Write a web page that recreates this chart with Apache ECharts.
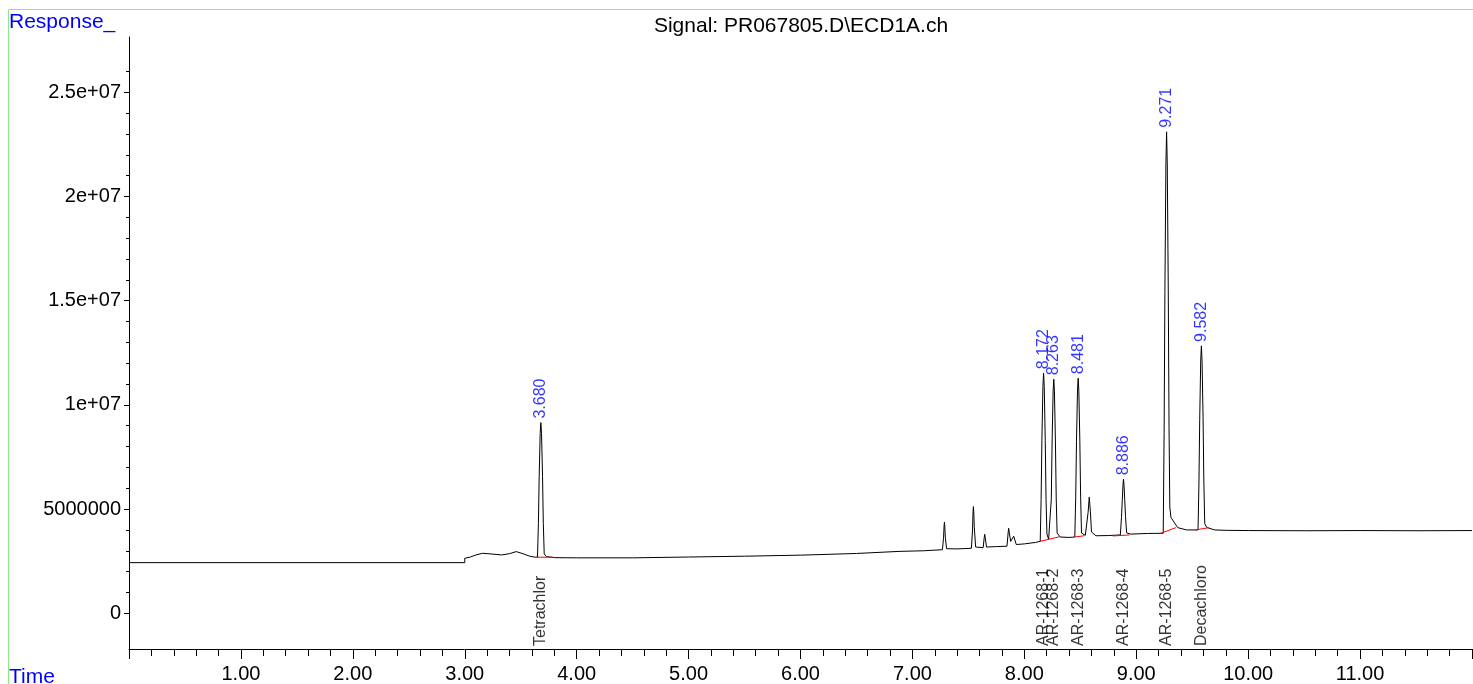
<!DOCTYPE html>
<html>
<head>
<meta charset="utf-8">
<title>Signal: PR067805.D\ECD1A.ch</title>
<script src="https://cdn.jsdelivr.net/npm/echarts@6/dist/echarts.min.js"></script>
<style>
    html, body { margin: 0; padding: 0; background: #fff; }
    #chart { width: 1473px; height: 684px; }
</style>
</head>
<body>
<div id="chart"></div>
<script>
// chromatogram trace (time in min, response in 1e6)
var traceTime = [
    0, 3.0, 3.0, 3.05, 3.10, 3.16, 3.25, 3.33, 3.40, 3.46, 3.52, 3.58, 3.63,
    3.650, 3.658, 3.665, 3.674, 3.680, 3.686, 3.695, 3.702, 3.71, 3.73,
    3.80, 4.00, 4.50, 5.00, 5.50, 6.00, 6.50, 6.88, 7.10,
    7.268, 7.278, 7.283, 7.286, 7.289, 7.294, 7.305, 7.40,
    7.527, 7.537, 7.542, 7.545, 7.548, 7.553, 7.565,
    7.632, 7.641, 7.646, 7.651, 7.662, 7.75,
    7.845, 7.855, 7.860, 7.866, 7.878, 7.890, 7.905, 7.910, 7.916, 7.928,
    8.00, 8.10,
    8.142, 8.150, 8.157, 8.166, 8.172, 8.178, 8.187, 8.194, 8.202, 8.217,
    8.233, 8.241, 8.248, 8.257, 8.263, 8.269, 8.278, 8.285, 8.293, 8.32, 8.40,
    8.451, 8.459, 8.466, 8.475, 8.481, 8.487, 8.496, 8.503, 8.511, 8.545,
    8.560, 8.570, 8.580, 8.590, 8.600, 8.64, 8.75,
    8.858, 8.868, 8.875, 8.882, 8.886, 8.890, 8.897, 8.904, 8.914, 8.95, 9.10,
    9.241, 9.249, 9.256, 9.265, 9.271, 9.277, 9.286, 9.293, 9.300, 9.31, 9.37, 9.45,
    9.552, 9.560, 9.567, 9.576, 9.582, 9.588, 9.597, 9.604, 9.612, 9.63,
    9.70, 9.80, 10.0, 10.5, 11.0, 11.5, 12.0
];
var traceResp = [
    2.43, 2.43, 2.64, 2.70, 2.80, 2.88, 2.84, 2.80, 2.86, 2.96, 2.86, 2.74, 2.69,
    2.70, 4.31, 6.57, 8.63, 9.15, 8.63, 6.57, 4.31, 2.85, 2.72,
    2.67, 2.66, 2.66, 2.70, 2.74, 2.79, 2.87, 2.97, 3.00,
    3.05, 3.60, 4.20, 4.37, 4.20, 3.65, 3.10, 3.09,
    3.12, 4.00, 4.90, 5.12, 4.90, 4.10, 3.18,
    3.15, 3.60, 3.79, 3.62, 3.18, 3.20,
    3.22, 3.85, 4.08, 3.85, 3.45, 3.44, 3.70, 3.79, 3.65, 3.30,
    3.33, 3.40,
    3.45, 5.47, 8.29, 10.87, 11.52, 10.87, 8.29, 5.47, 3.80, 3.55,
    3.58, 5.49, 8.17, 10.62, 11.23, 10.62, 8.17, 5.49, 3.85, 3.66, 3.64,
    3.66, 5.57, 8.23, 10.67, 11.28, 10.67, 8.23, 5.57, 3.85, 3.74,
    3.78, 4.85, 5.57, 4.90, 3.90, 3.72, 3.73,
    3.76, 4.60, 5.40, 6.20, 6.43, 6.20, 5.45, 4.65, 3.86, 3.80, 3.83,
    3.84, 8.66, 15.4, 21.6, 23.1, 21.6, 15.6, 8.90, 5.10, 4.60, 4.11, 4.00,
    4.00, 6.20, 9.30, 12.1, 12.83, 12.1, 9.40, 6.30, 4.30, 4.12,
    4.00, 3.98, 3.97, 3.96, 3.97, 3.96, 3.97
];

// integrated peaks
var peakTimes = [3.680, 8.172, 8.263, 8.481, 8.886, 9.271, 9.582];
var peakHeights = [9.15, 11.52, 11.23, 11.28, 6.43, 23.1, 12.83];
var compoundNames = ['Tetrachlor', 'AR-1268-1', 'AR-1268-2', 'AR-1268-3', 'AR-1268-4', 'AR-1268-5', 'Decachloro'];

// red integration baselines: [t1, v1, t2, v2]
var baseSegments = [
    [3.64, 2.69, 3.79, 2.69],
    [8.14, 3.45, 8.32, 3.68],
    [8.45, 3.66, 8.535, 3.72],
    [8.79, 3.71, 8.94, 3.76],
    [9.22, 3.84, 9.355, 4.11],
    [9.53, 4.00, 9.65, 4.11]
];

// y axis ticks
var yTicks = [0, 5000000, 10000000, 15000000, 20000000, 25000000];
var yTickLabels = ['0', '5000000', '1e+07', '1.5e+07', '2e+07', '2.5e+07'];
var yMinorTicks = [1000000, 2000000, 3000000, 4000000, 6000000, 7000000, 8000000, 9000000,
    11000000, 12000000, 13000000, 14000000, 16000000, 17000000, 18000000, 19000000,
    21000000, 22000000, 23000000, 24000000, 26000000];

var SCALE = 1000000;
var Y_MIN = -1713000;
var Y_MAX = 27650000;
var BLUE = '#0000ff';
var FONT = 'Liberation Sans, Arial, sans-serif';

var chart = echarts.init(document.getElementById('chart'), null, {renderer: 'canvas'});

var traceData = [];
for (var i = 0; i < traceTime.length; i++) {
    traceData.push([traceTime[i], traceResp[i] * SCALE]);
}

var series = [{
    type: 'line',
    data: traceData,
    showSymbol: false,
    symbol: 'none',
    lineStyle: {color: '#000', width: 1},
    silent: true,
    z: 2
}];

// red baselines
baseSegments.forEach(function (s) {
    series.push({
        type: 'line',
        data: [[s[0], s[1] * SCALE], [s[2], s[3] * SCALE]],
        symbol: 'none',
        lineStyle: {color: '#ff0000', width: 1},
        silent: true,
        z: 3
    });
});

// retention time labels above peaks
series.push({
    type: 'scatter',
    symbolSize: 0,
    data: peakTimes.map(function (t, k) { return [t, peakHeights[k] * SCALE]; }),
    itemStyle: {color: 'transparent'},
    silent: true,
    label: {
        show: true,
        position: [0, -4],
        rotate: 90,
        align: 'left',
        verticalAlign: 'middle',
        fontFamily: FONT,
        fontSize: 16,
        color: BLUE,
        formatter: function (p) { return p.value[0].toFixed(3); }
    },
    z: 4
});

// compound names along the bottom
series.push({
    type: 'scatter',
    symbolSize: 0,
    data: peakTimes.map(function (t) { return [t, Y_MIN]; }),
    itemStyle: {color: 'transparent'},
    silent: true,
    clip: false,
    label: {
        show: true,
        position: [0, -3],
        rotate: 90,
        align: 'left',
        verticalAlign: 'middle',
        fontFamily: FONT,
        fontSize: 16,
        color: '#000',
        formatter: function (p) { return compoundNames[p.dataIndex]; }
    },
    z: 4
});

var option = {
    animation: false,
    backgroundColor: '#fff',
    grid: {left: 129, right: 1, top: 37, bottom: 35, containLabel: false, outerBoundsMode: 'none'},
    xAxis: {
        type: 'value',
        min: 0,
        max: 12,
        interval: 1,
        axisLine: {show: true, onZero: false, lineStyle: {color: '#000', width: 1}},
        axisTick: {show: true, length: 10, lineStyle: {color: '#000'}},
        minorTick: {show: true, splitNumber: 5, length: 7, lineStyle: {color: '#000'}},
        splitLine: {show: false},
        axisLabel: {
            margin: 15,
            fontFamily: FONT,
            fontSize: 20,
            color: '#000',
            formatter: function (v) { return (v > 0 && v < 12) ? v.toFixed(2) : ''; }
        }
    },
    yAxis: [{
        type: 'value',
        min: Y_MIN,
        max: Y_MAX,
        axisLine: {show: true, onZero: false, lineStyle: {color: '#000', width: 1}},
        axisTick: {show: true, length: 5, customValues: yTicks, lineStyle: {color: '#000'}},
        splitLine: {show: false},
        axisLabel: {
            margin: 8,
            fontFamily: FONT,
            fontSize: 20,
            color: '#000',
            customValues: yTicks,
            formatter: function (v) { return yTickLabels[yTicks.indexOf(v)]; }
        }
    }, {
        type: 'value',
        min: Y_MIN,
        max: Y_MAX,
        position: 'left',
        axisLine: {show: false},
        axisTick: {show: true, length: 3, customValues: yMinorTicks, lineStyle: {color: '#000'}},
        axisLabel: {show: false, customValues: yMinorTicks},
        splitLine: {show: false}
    }],
    graphic: [{
        type: 'rect',
        shape: {x: 8.5, y: 9.5, width: 1480, height: 700},
        style: {fill: 'none', stroke: '#8ce88c', lineWidth: 1},
        silent: true,
        z: 0
    }, {
        type: 'text',
        x: 801,
        y: 26,
        style: {text: 'Signal: PR067805.D\\ECD1A.ch', fill: '#000', font: '21px ' + FONT, align: 'center', verticalAlign: 'middle'}
    }, {
        type: 'text',
        x: 9,
        y: 22,
        style: {text: 'Response_', fill: BLUE, font: '21px ' + FONT, align: 'left', verticalAlign: 'middle'}
    }, {
        type: 'text',
        x: 9,
        y: 677,
        style: {text: 'Time', fill: BLUE, font: '21px ' + FONT, align: 'left', verticalAlign: 'middle'}
    }],
    series: series
};

chart.setOption(option);
</script>
</body>
</html>
